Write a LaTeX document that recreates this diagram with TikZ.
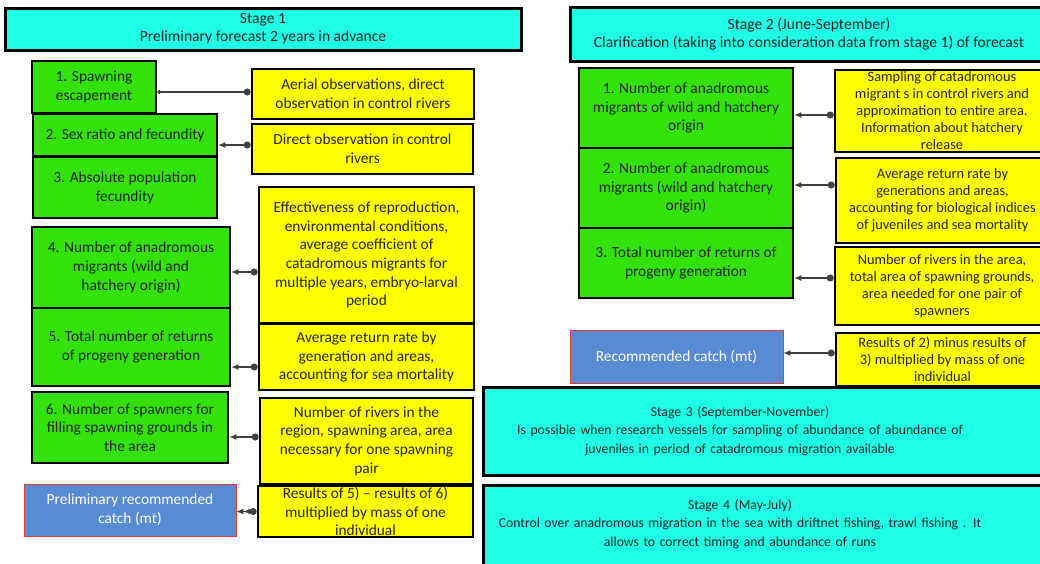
\documentclass[tikz,border=0pt]{standalone}
\usepackage{fontspec}
\setmainfont{Carlito}
\usetikzlibrary{arrows.meta, positioning}

\definecolor{stagecyan}{RGB}{30,255,230}
\definecolor{boxgreen}{RGB}{50,226,10}
\definecolor{boxyellow}{RGB}{255,255,0}
\definecolor{catchblue}{RGB}{88,140,210}
\definecolor{catchred}{RGB}{225,60,60}

\begin{document}
\begin{tikzpicture}[x=1pt, y=-1pt]
            \tikzstyle{stage} = [rectangle, draw, line width=3pt, fill=stagecyan, inner sep=0pt]
            \tikzstyle{stagetext} = [text width=560pt, align=center, font=\fontsize{13.7}{18.5}\selectfont, text=black!85]
            \tikzstyle{factor} = [rectangle, draw, line width=2.6pt, fill=boxgreen, align=center, inner sep=1pt, font=\fontsize{15.4}{18.8}\selectfont, text=black!85]
            \tikzstyle{source} = [rectangle, draw, line width=2.6pt, fill=boxyellow, align=center, inner sep=1pt, font=\fontsize{15.4}{18.6}\selectfont, text=black!85]
            \tikzstyle{catch} = [rectangle, draw=catchred, line width=0.8pt, fill=catchblue, align=center, inner sep=1pt, font=\fontsize{15.4}{18.8}\selectfont, text=white]
            \tikzstyle{line} = [draw, black!75, line width=1.1pt, {Latex[length=7pt,width=6pt]}-{Circle[length=7pt]}]

            \fill[white] (0,0) rectangle (1040,563);
            \useasboundingbox (0,0) rectangle (1040,563);

            % stage 1
            \node [stage, minimum width=516pt, minimum height=42pt, align=center, font=\fontsize{15.6}{18}\selectfont, text=black!85] (st1) at (263,29) {Stage 1\\Preliminary  forecast  2 years in advance};

            \node [factor, minimum width=124pt, minimum height=52pt] (f1) at (94,87) {1. Spawning\\escapement};
            \node [factor, minimum width=184pt, minimum height=42pt] (f2) at (125,135) {2. Sex  ratio and fecundity};
            \node [factor, minimum width=184pt, minimum height=61pt] (f3) at (125,187.5) {3. Absolute population\\fecundity};
            \node [factor, minimum width=198pt, minimum height=81pt] (f4) at (131,267.5) {4. Number  of anadromous\\migrants (wild and\\hatchery origin)};
            \node [factor, minimum width=198pt, minimum height=78pt] (f5) at (131,347) {5. Total number  of returns\\of progeny  generation};
            \node [factor, minimum width=196pt, minimum height=71pt] (f6) at (130,427.5) {6. Number  of spawners for\\filling spawning grounds in\\the  area};
            \node [catch, minimum width=212pt, minimum height=52pt] (pcatch) at (130,510) {Preliminary recommended\\catch (mt)};

            \node [source, minimum width=222pt, minimum height=50pt] (s1) at (363,94) {Aerial observations, direct\\observation in control rivers};
            \node [source, minimum width=221pt, minimum height=50pt] (s2) at (362.5,149) {Direct observation in control\\rivers};
            \node [source, minimum width=215pt, minimum height=136pt] (s3) at (366.5,255) {Effectiveness of reproduction,\\environmental conditions,\\average coefficient of\\catadromous migrants for\\multiple years, embryo-larval\\period};
            \node [source, minimum width=215pt, minimum height=66pt] (s4) at (366.5,357) {Average  return  rate by\\generation and areas,\\accounting for  sea mortality};
            \node [source, minimum width=213pt, minimum height=86pt] (s5) at (366.5,441) {Number  of rivers in the\\region, spawning area, area\\necessary for one  spawning\\pair};
            \node [source, minimum width=215pt, minimum height=51pt] (s6) at (365.5,511.5) {Results of 5) -- results of 6)\\multiplied by  mass of one\\individual};

            \path [draw, black!75, line width=1.1pt, {Circle[length=4pt]}-{Circle[length=7pt]}] ([yshift=2pt]s1.west -| f1.east) -- ([yshift=2pt]s1.west);
            \path [line] ([yshift=4pt]s2.west -| f2.east) -- ([yshift=4pt]s2.west);
            \path [line] ([yshift=-4.5pt]f4.east) -- ([yshift=-4.5pt]f4.east -| s3.west);
            \path [line] ([yshift=-10pt]s4.west -| f5.east) -- ([yshift=-10pt]s4.west);
            \path [line] ([yshift=4pt]s5.west -| f6.east) -- ([yshift=4pt]s5.west);
            \path [draw, black!75, line width=1.1pt, {Latex[length=7pt,width=6pt]Latex[length=7pt,width=6pt]}-{Circle[length=7pt]}] (s6.west -| pcatch.east) -- (s6.west);

            % stage 2
            \node [stage, minimum width=478pt, minimum height=54pt, align=center, font=\fontsize{15.6}{18.5}\selectfont, text=black!85] (st2) at (809,34) {Stage 2 (June-September)\\Clarification (taking into consideration data from stage 1) of forecast};

            \node [factor, minimum width=214pt, minimum height=80pt] (r1) at (686,108) {1. Number  of anadromous\\migrants of wild and hatchery\\origin};
            \node [factor, minimum width=214pt, minimum height=80pt] (r2) at (686,188) {2. Number  of anadromous\\migrants (wild and hatchery\\origin)};
            \node [factor, minimum width=214pt, minimum height=70pt] (r3) at (686,263) {3. Total number  of returns of\\progeny  generation};
            \node [catch, minimum width=213pt, minimum height=53pt] (rcatch) at (676.5,356.5) {Recommended  catch (mt)};

            \node [source, minimum width=214pt, minimum height=82pt, font=\fontsize{14.4}{17}\selectfont] (q1) at (942,111) {Sampling of catadromous\\migrant s in control rivers and\\approximation to entire area.\\Information  about hatchery\\release};
            \node [source, minimum width=213pt, minimum height=85pt, font=\fontsize{14.4}{17}\selectfont] (q2) at (942.5,200.5) {Average return rate by\\generations and areas,\\accounting for biological indices\\of juveniles and sea mortality};
            \node [source, minimum width=214pt, minimum height=78pt, font=\fontsize{14.4}{17}\selectfont] (q3) at (942,286) {Number of rivers in the area,\\total area of spawning grounds,\\area needed for one pair of\\spawners};
            \node [source, minimum width=213pt, minimum height=53pt, font=\fontsize{14.4}{17}\selectfont] (q4) at (942.5,359.5) {Results of 2)  minus results of\\3)  multiplied by  mass of one\\individual};

            \path [line] ([yshift=-4pt]q1.west -| r1.east) -- ([yshift=-4pt]q1.west);
            \path [line] ([yshift=3pt]r2.east) -- ([yshift=3pt]r2.east -| q2.west);
            \path [line] ([yshift=8pt]q3.west -| r3.east) -- ([yshift=8pt]q3.west);
            \path [line] ([yshift=3.5pt]rcatch.east) -- ([yshift=3.5pt]rcatch.east -| q4.west);

            % stages 3 and 4
            \node [stage, minimum width=565pt, minimum height=88pt] (st3) at (765.5,431) {};
            \node [stagetext] (st3txt) at (740,431) {Stage 3 (September-November)\\Is possible when research vessels for sampling of abundance of abundance of\\juveniles in period of catadromous migration available};
            \node [stage, minimum width=565pt, minimum height=90pt] (st4) at (765.5,530) {};
            \node [stagetext] (st4txt) at (740,524) {Stage 4 (May-July)\\Control over  anadromous migration in the sea with driftnet fishing, trawl fishing . It\\allows to correct  timing and abundance of runs};
        \end{tikzpicture}
\end{document}
